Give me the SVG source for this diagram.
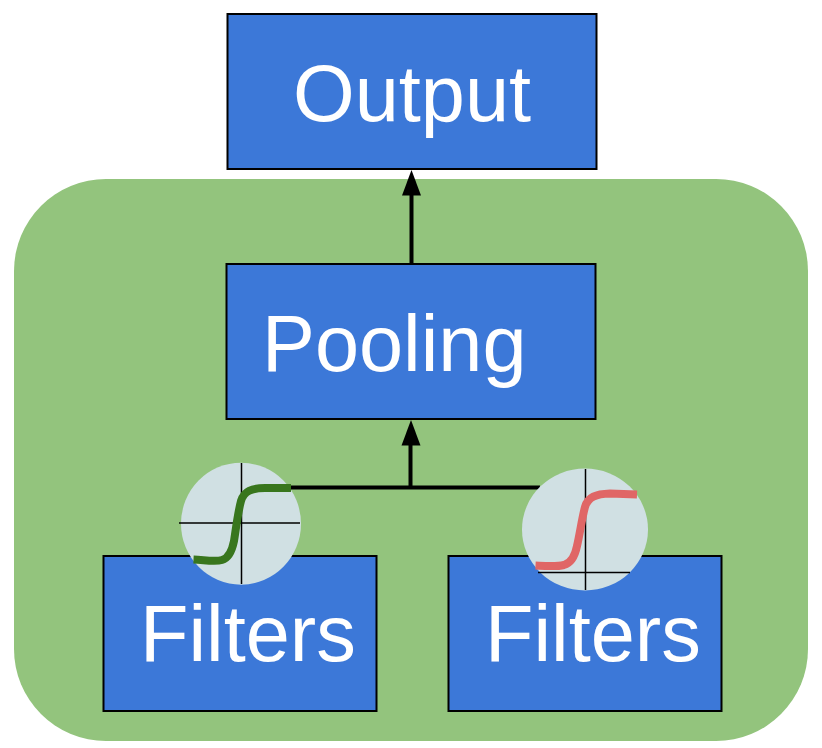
<svg xmlns="http://www.w3.org/2000/svg" width="822" height="748" viewBox="0 0 822 748">
  <style>
    .box { fill: #3c78d8; stroke: #000; stroke-width: 2; }
    .label { font-family: "Liberation Sans", Arial, sans-serif; font-size: 79.300px; fill: #fff; }
    .wire { fill: none; stroke: #000; stroke-width: 4; }
    .head { fill: #000; }
    .dial { fill: #d0e0e3; }
    .axis { fill: none; stroke: #000; stroke-width: 1.5; }
    .curve { fill: none; stroke-width: 8; }
  </style>
  <rect id="background" x="14" y="179" width="794" height="562" rx="92" ry="92" fill="#93c47d"/>
  <g id="connectors">
    <path class="wire" d="M411.500 264V190"/>
    <path class="head" d="M411.500 170L421 195.500H402Z"/>
    <path class="wire" d="M290 487.500H540"/>
    <path class="wire" d="M410.500 487.500V440"/>
    <path class="head" d="M411 420L420.500 445.500H401.500Z"/>
  </g>
  <g id="output">
    <rect class="box" x="227.500" y="14" width="369" height="155"/>
    <text class="label" x="293" y="120.500">Output</text>
  </g>
  <g id="pooling">
    <rect class="box" x="226.500" y="264" width="369" height="155"/>
    <text class="label" x="262" y="370.500">Pooling</text>
  </g>
  <g id="filters-left">
    <rect class="box" x="103.500" y="556" width="273" height="155"/>
    <text class="label" x="140" y="660.500">Filters</text>
  </g>
  <g id="filters-right">
    <rect class="box" x="448.500" y="556" width="273" height="155"/>
    <text class="label" x="485" y="660.500">Filters</text>
  </g>
  <g id="activation-left">
    <ellipse class="dial" cx="241" cy="523.700" rx="60" ry="61"/>
    <path class="axis" d="M179 523H300M241.500 463V584"/>
    <path class="curve" stroke="#38761d" d="M193.500 559.500C205 560 215 562 222 560C229 558 232 551 234 541C236 528 238 512 241 501C244 491 252 488 265 488H291"/>
  </g>
  <g id="activation-right">
    <ellipse class="dial" cx="585" cy="529.500" rx="63" ry="61"/>
    <path class="axis" d="M538 572.500H630M585.500 469V590"/>
    <path class="curve" stroke="#e06666" d="M535.500 565.500C545 566 556 567 564 565C571 563 575 556 577 546C580 533 582 518 585 507C588 497 596 494 610 493.500L637 494.500"/>
  </g>
</svg>
